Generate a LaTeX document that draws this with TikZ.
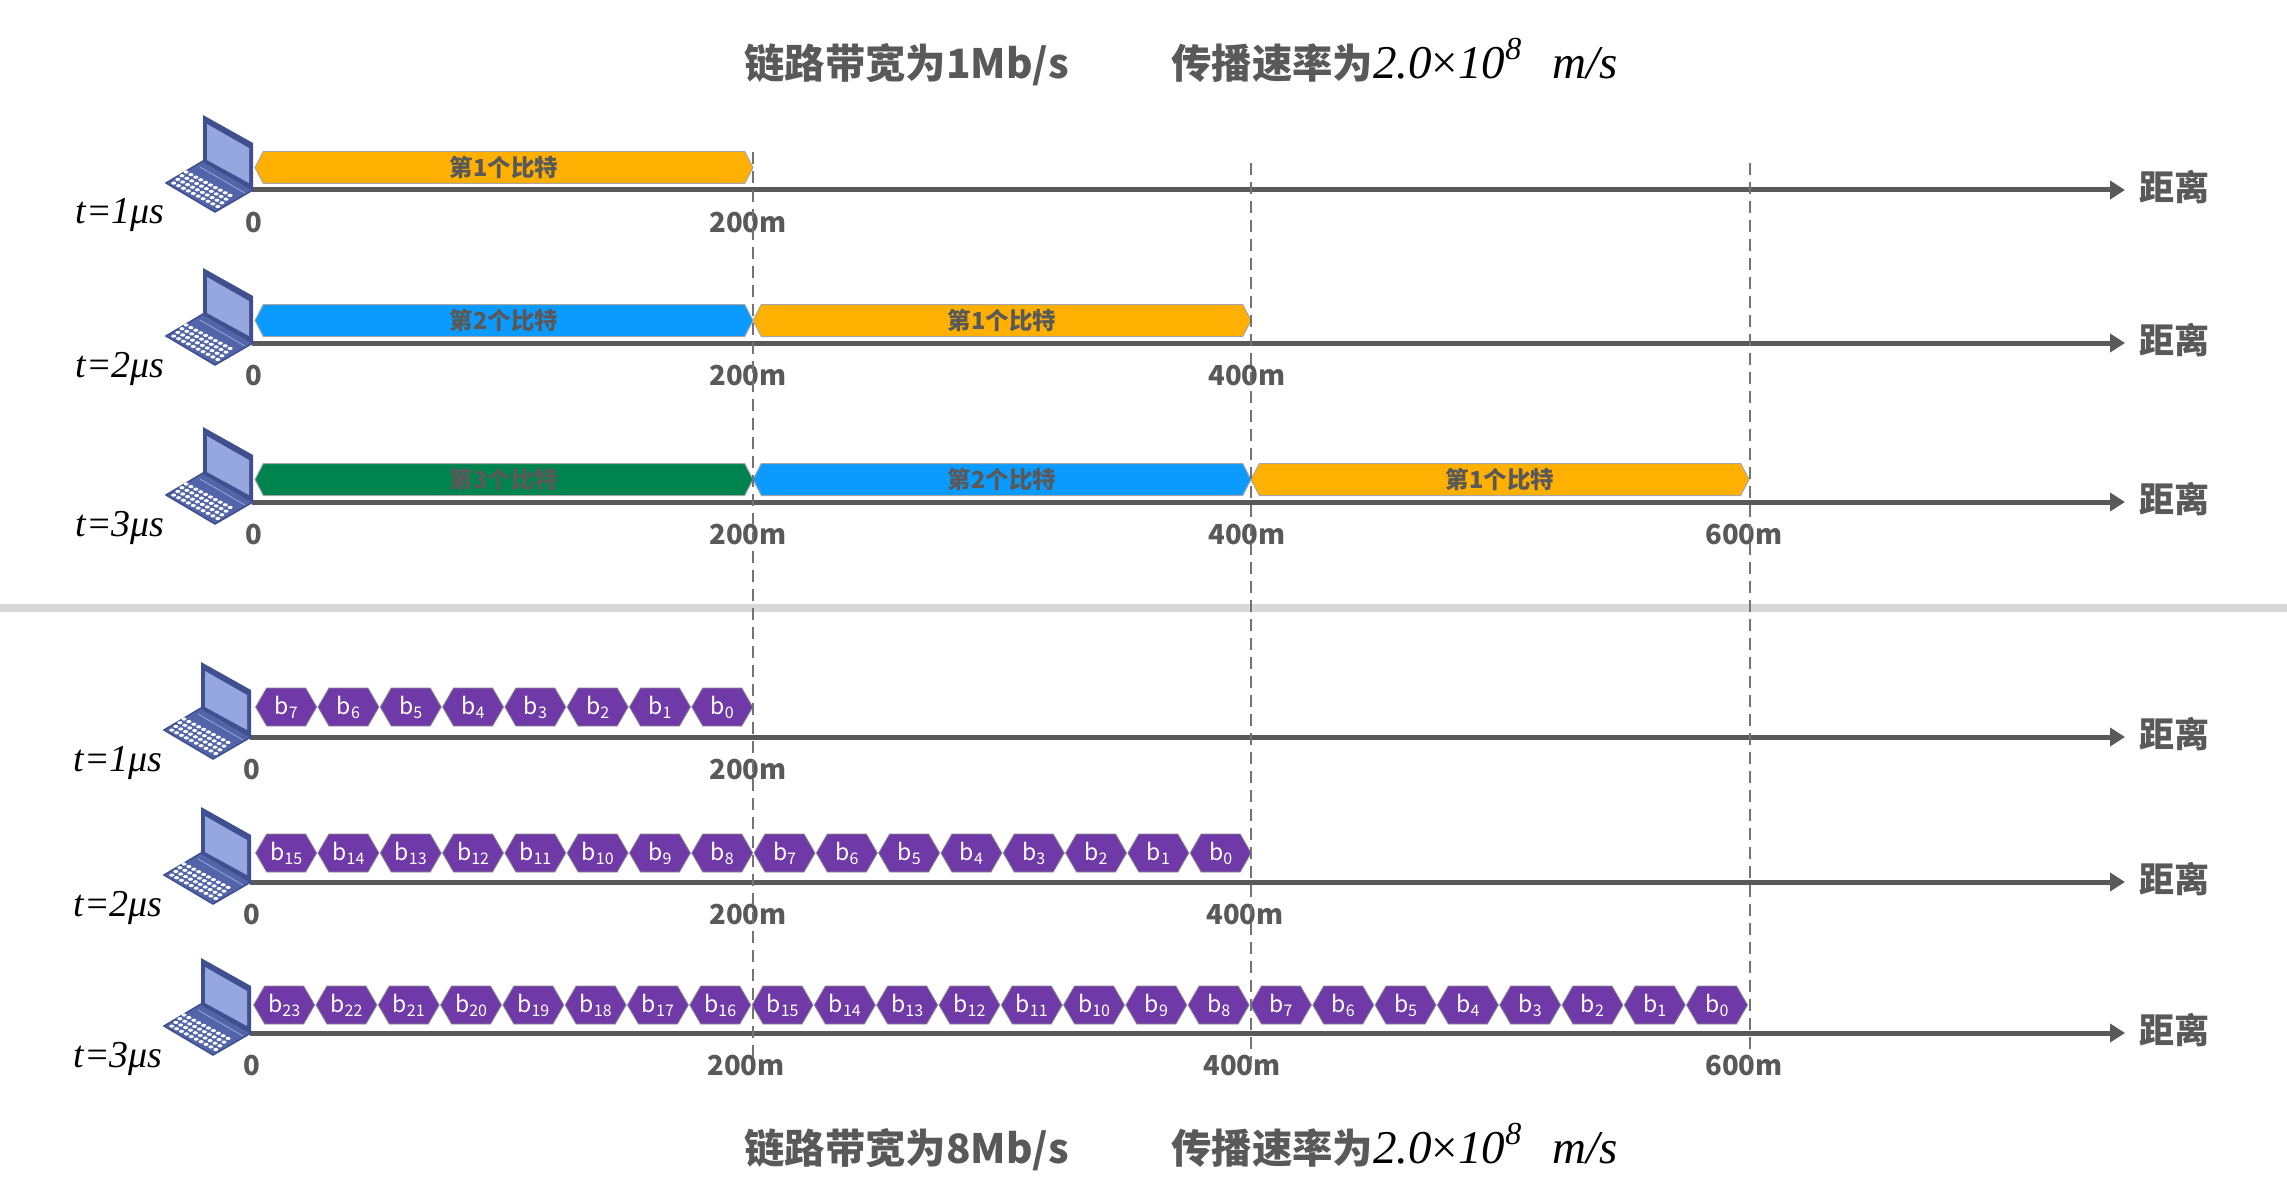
\documentclass[tikz,border=0pt]{standalone}
\usepackage{fontspec}
\usetikzlibrary{arrows.meta,shapes.symbols}
\newfontfamily\cjk{Noto Sans CJK SC}
\newfontfamily\formula{Liberation Serif}
\definecolor{inkgray}{HTML}{595959}
\definecolor{bityellow}{HTML}{FFB000}
\definecolor{bitblue}{HTML}{0B9BFF}
\definecolor{bitgreen}{HTML}{00844F}
\definecolor{bitpurple}{HTML}{7039A8}
\definecolor{lapframe}{HTML}{3F4F8F}
\definecolor{lapscreen}{HTML}{96A6DF}
\definecolor{lapbase}{HTML}{5265A8}
\tikzset{
  bitbar/.style={signal,signal to=west and east,signal pointer angle=125,draw=black!35,line width=1pt,
    minimum height=32pt,inner sep=0pt,text=inkgray,font=\cjk\bfseries\fontsize{23.5}{23.5}\selectfont},
  hexbit/.style={signal,signal to=west and east,signal pointer angle=120,draw=black!45,line width=.8pt,fill=bitpurple,
    minimum width=61pt,minimum height=38pt,inner sep=0pt,text=white,font=\cjk\fontsize{23}{23}\selectfont},
  axisline/.style={draw=inkgray,line width=5pt,-{Triangle[length=15pt,width=18pt]}},
  guideline/.style={draw=black!55,line width=2pt,dash pattern=on 12pt off 7pt},
  distlabel/.style={text=inkgray,font=\cjk\bfseries\fontsize{27.5}{27.5}\selectfont,inner sep=0pt},
  farlabel/.style={text=inkgray,font=\cjk\bfseries\fontsize{35}{35}\selectfont,inner sep=0pt},
  timelabel/.style={anchor=base,inner sep=0pt,font=\formula\itshape\fontsize{38}{38}\selectfont},
  titlelabel/.style={anchor=base west,text=inkgray,inner sep=0pt,font=\cjk\bfseries\fontsize{40.4}{40.4}\selectfont},
  ratelabel/.style={anchor=base west,inner sep=0pt,font=\formula\itshape\fontsize{47}{47}\selectfont},
  laptop/.pic={
    \fill[lapframe] (-49,-75) -- (1,-47) -- (1,0) -- (-49,-29) -- cycle;
    \fill[lapscreen] (-45,-66) -- (-3,-42) -- (-3,-7) -- (-45,-30) -- cycle;
    \fill[lapbase,draw=lapframe,line width=1.5pt] (-86,-7) -- (-49,-29) -- (1,0) -- (-37,22) -- cycle;
    \draw[lapscreen,line width=.8pt] (-52,-23) -- (-7,3);
    \foreach \i in {0,...,9}
      \foreach \j in {0,...,3}
        \fill[white] ({-66+4.9*\i-4.1*\j},{-18+2.6*\i+3.7*\j}) ellipse (2.5pt and 1.6pt);
  }
}
\newcommand{\bitlab}[1]{b{\fontsize{16}{16}\selectfont\raisebox{-4pt}{#1}}}
% one row of hexagons, last bit on the right
\newcommand{\hexrow}[4]{
  \foreach \i in {1,...,#4} {
    \pgfmathtruncatemacro{\k}{#4-\i}
    \node[hexbit] (#1-\k) at ({#2+62.3*(\i-.5)},#3) {\bitlab{\k}};
  }
}
\newcommand{\ratetext}{2.0{\upshape×}10\raisebox{19pt}{\fontsize{32}{32}\selectfont 8}\hspace{31pt}m/s}
\begin{document}
\begin{tikzpicture}[x=1pt,y=-1pt]
\useasboundingbox (0,0) rectangle (2287,1185);
\fill[black!15] (0,604) rectangle (2287,612);

\node[titlelabel] (topband) at (744,79) {链路带宽为1Mb/s};
\node[titlelabel] (toprate) at (1171,79) {传播速率为};
\node[ratelabel] (topval) at (1373,79) {\ratetext};
\node[titlelabel] (botband) at (744,1163) {链路带宽为8Mb/s};
\node[titlelabel] (botrate) at (1171,1163) {传播速率为};
\node[ratelabel] (botval) at (1373,1163) {\ratetext};

% axes, laptops and left labels
\foreach \r/\xx/\ay/\tt/\tx in {1/252/190/1/120,2/252/343/2/120,3/252/502/3/120,4/250/737/1/118,5/250/882/2/118,6/250/1033/3/118} {
  \coordinate (start\r) at (\xx,\ay);
  \coordinate (end\r) at (2125,\ay);
  \draw[axisline] (start\r) -- (end\r);
  \pic at (start\r) {laptop};
  \node[timelabel] (time\r) at (\tx,\ay+34) {t=\tt μs};
  \node[farlabel] (far\r) at (2174,\ay-3) {距离};
  \node[distlabel] (zero\r) at (\xx+2,\ay+33) {0};
}

% bars of the first case
\node[bitbar,fill=bityellow,minimum width=498pt] (bar1a) at (504,167.5) {第1个比特};
\node[bitbar,fill=bitblue,minimum width=498pt] (bar2b) at (504,320.5) {第2个比特};
\node[bitbar,fill=bityellow,minimum width=498pt] (bar2a) at (1002,320.5) {第1个比特};
\node[bitbar,fill=bitgreen,minimum width=498pt] (bar3c) at (504,479.5) {第3个比特};
\node[bitbar,fill=bitblue,minimum width=498pt] (bar3b) at (1002,479.5) {第2个比特};
\node[bitbar,fill=bityellow,minimum width=498pt] (bar3a) at (1500,479.5) {第1个比特};

% hexagons of the second case
\hexrow{hexa}{255}{707}{8}
\hexrow{hexb}{255}{853}{16}
\hexrow{hexc}{253}{1005}{24}

% distance marks
\foreach \r/\ly/\tx in {1/223/748,2/376/748,3/535/748,4/770/748,5/915/748,6/1066/746}
  \node[distlabel] (two\r) at (\tx,\ly) {200m};
\foreach \r/\ly/\tx in {2/376/1247,3/535/1247,5/915/1245,6/1066/1242}
  \node[distlabel] (four\r) at (\tx,\ly) {400m};
\foreach \r/\ly/\tx in {3/535/1744,6/1066/1744}
  \node[distlabel] (six\r) at (\tx,\ly) {600m};

% guide lines
\coordinate (guideA) at (753,152);
\coordinate (guideAe) at (753,1060);
\coordinate (guideB) at (1251,163);
\coordinate (guideBe) at (1251,1062);
\coordinate (guideC) at (1750,163);
\coordinate (guideCe) at (1750,1062);
\draw[guideline] (guideA) -- (guideAe);
\draw[guideline] (guideB) -- (guideBe);
\draw[guideline] (guideC) -- (guideCe);
\end{tikzpicture}
\end{document}
